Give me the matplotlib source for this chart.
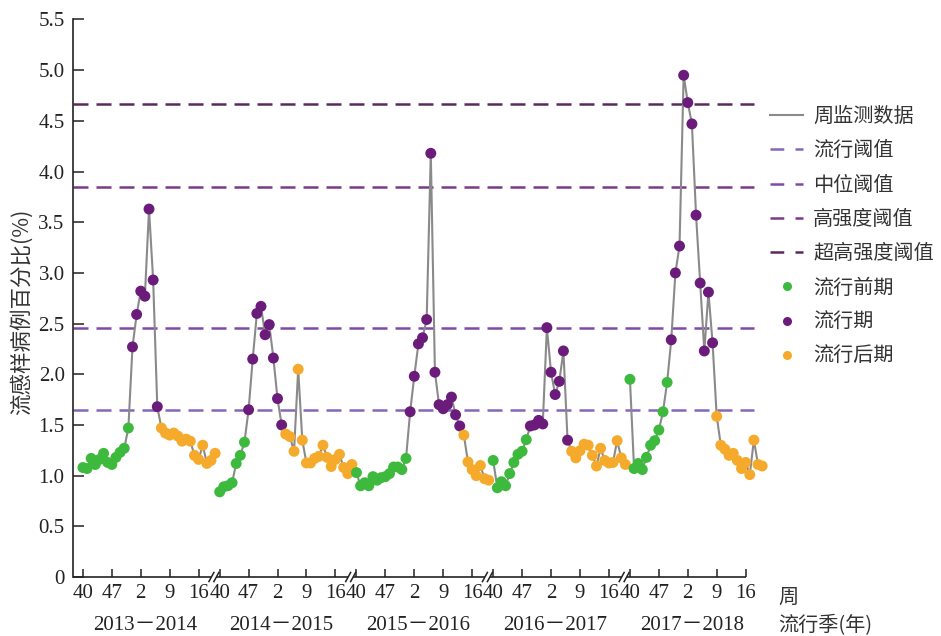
import numpy as np
import matplotlib
matplotlib.use('Agg')
from matplotlib import pyplot as plt
from matplotlib.lines import Line2D

plt.rcParams['font.family'] = ['Liberation Serif', 'Noto Sans CJK SC']

# weekly ILI% per season, week 40 .. week 20 (33 weeks)
s2013 = [1.08, 1.07, 1.17, 1.11, 1.16, 1.22, 1.13, 1.11, 1.18, 1.23, 1.27, 1.47,
         2.27, 2.59, 2.82, 2.77, 3.63, 2.93, 1.68,
         1.47, 1.42, 1.40, 1.42, 1.39, 1.34, 1.36, 1.34, 1.20, 1.16, 1.30, 1.12, 1.15, 1.22]
s2014 = [0.84, 0.89, 0.90, 0.93, 1.12, 1.20, 1.33,
         1.65, 2.15, 2.60, 2.67, 2.39, 2.49, 2.16, 1.76, 1.50,
         1.41, 1.385, 1.24, 2.05, 1.35, 1.125, 1.125, 1.17, 1.19, 1.30, 1.18, 1.09, 1.16,
         1.21, 1.08, 1.02, 1.11]
s2015 = [1.03, 0.90, 0.93, 0.90, 0.99, 0.955, 0.98, 0.99, 1.02, 1.085, 1.085, 1.06, 1.17,
         1.63, 1.98, 2.30, 2.36, 2.54, 4.18, 2.02, 1.70, 1.66, 1.70, 1.775, 1.60, 1.49,
         1.40, 1.135, 1.06, 1.00, 1.10, 0.97, 0.955]
s2016 = [1.15, 0.88, 0.94, 0.90, 1.02, 1.13, 1.21, 1.24, 1.355,
         1.49, 1.50, 1.545, 1.51, 2.46, 2.02, 1.80, 1.93, 2.23, 1.35,
         1.24, 1.175, 1.245, 1.31, 1.30, 1.20, 1.095, 1.27, 1.15, 1.125, 1.13, 1.345, 1.175, 1.11]
s2017 = [1.95, 1.07, 1.12, 1.06, 1.18, 1.30, 1.345, 1.45, 1.63, 1.92,
         2.34, 3.00, 3.265, 4.95, 4.68, 4.47, 3.57, 2.90, 2.23, 2.81, 2.31,
         1.585, 1.30, 1.26, 1.20, 1.22, 1.15, 1.07, 1.13, 1.01, 1.35, 1.11, 1.095]
seasons = [s2013, s2014, s2015, s2016, s2017]
season_labels = ['2013－2014', '2014－2015', '2015－2016', '2016－2017', '2017－2018']
# number of weeks in pre-epidemic / epidemic / post-epidemic phase
phase_counts = [(12, 7, 14), (7, 9, 17), (13, 13, 7), (9, 10, 14), (10, 11, 12)]

thresholds = [1.65, 2.46, 3.85, 4.67]
threshold_names = ['流行阈值', '中位阈值', '高强度阈值', '超高强度阈值']
threshold_colors = ['#8466b8', '#7e4aa6', '#7a3a88', '#5a2a5e']

week_ticks = [0, 7, 14, 21, 28]
week_labels = ['40', '47', '2', '9', '16']

phase_colors = ['#3dba3d', '#6b1c7a', '#f6aa2c']
phase_names = ['流行前期', '流行期', '流行后期']

S = 33.1  # spacing between seasons (weeks)
x_left = -2.4
x_right = 166.3

fig = plt.figure(figsize=(9.41, 6.36), dpi=100)
ax = fig.add_axes([73 / 941, 59 / 636, (770 - 73) / 941, (577 - 19.5) / 636])
ax.set_xlim(x_left, x_right)
ax.set_ylim(0, 5.5)

for thr, col in zip(thresholds, threshold_colors):
    ax.plot([x_left, 162.5], [thr, thr], color=col, lw=1.8, dashes=(6.0, 3.2), zorder=2)

for s, vals in enumerate(seasons):
    x = s * S + np.arange(len(vals))
    ax.plot(x, vals, color='#8a8a8a', lw=1.5, zorder=3)
    g, p, o = phase_counts[s]
    bounds = [0, g, g + p, g + p + o]
    for k in range(3):
        ax.scatter(x[bounds[k]:bounds[k + 1]], vals[bounds[k]:bounds[k + 1]],
                   s=62, color=phase_colors[k], edgecolors='none', zorder=4)

# axes styling
for side in ['top', 'right', 'bottom']:
    ax.spines[side].set_visible(False)
ax.spines['left'].set_linewidth(1.2)
ax.spines['left'].set_color('#222222')

# broken x axis
breaks = [s * S + 31.7 for s in range(4)]
starts = [x_left] + [b + 0.6 for b in breaks]
ends = [b - 0.6 for b in breaks] + [4 * S + 28]
for a, b in zip(starts, ends):
    ax.plot([a, b], [0, 0], color='#222222', lw=1.2, clip_on=False, zorder=5,
            solid_capstyle='butt')
for b in breaks:
    for dx in (-0.6, 0.6):
        ax.plot([b + dx - 0.6, b + dx + 0.6], [-0.045, 0.045], color='#222222',
                lw=1.1, clip_on=False, zorder=5)

xticks = [s * S + t for s in range(5) for t in week_ticks]
ax.set_xticks(xticks)
ax.set_xticklabels(week_labels * 5, fontsize=15)
ax.set_yticks(np.arange(0, 5.51, 0.5))
ax.set_yticklabels(['0'] + ['%.1f' % v for v in np.arange(0.5, 5.51, 0.5)], fontsize=15)
ax.tick_params(axis='x', direction='in', length=6, width=1.1, pad=5, colors='#222222')
ax.tick_params(axis='y', direction='in', length=8, width=1.1, pad=6, colors='#222222')

for s, lab in enumerate(season_labels):
    ax.text(s * S + 15, -0.48, lab, fontsize=15, ha='center', va='center', color='#222222')

cjk = ['Noto Sans CJK SC', 'DejaVu Sans']
ax.text(168.3, -0.2, '周', fontsize=14.5, family=cjk, ha='left', va='center', color='#333333')
ax.text(168.3, -0.48, '流行季(年)', fontsize=14.5, family=cjk, ha='left', va='center',
        color='#333333')
fig.text(22 / 941, 1 - 312 / 636, '流感样病例百分比(%)', fontsize=15.5, family=cjk,
         rotation=90, ha='center', va='center', color='#333333')

handles = [Line2D([], [], color='#8a8a8a', lw=1.5)]
for col in threshold_colors:
    handles.append(Line2D([], [], color=col, lw=1.8, dashes=(5.5, 4.5)))
for col in phase_colors:
    handles.append(Line2D([], [], color=col, marker='o', ls='none', markersize=6.5,
                          markeredgewidth=0))
labels = ['周监测数据'] + threshold_names + phase_names
fig.legend(handles, labels, loc='upper left', bbox_to_anchor=(770 / 941, 1 - 106 / 636),
           frameon=False, prop={'family': cjk, 'size': 14.5}, handlelength=1.65,
           handletextpad=0.5, labelspacing=0.66, borderpad=0, borderaxespad=0,
           labelcolor='#333333')

fig.savefig('out.png', dpi=100, facecolor='white')
